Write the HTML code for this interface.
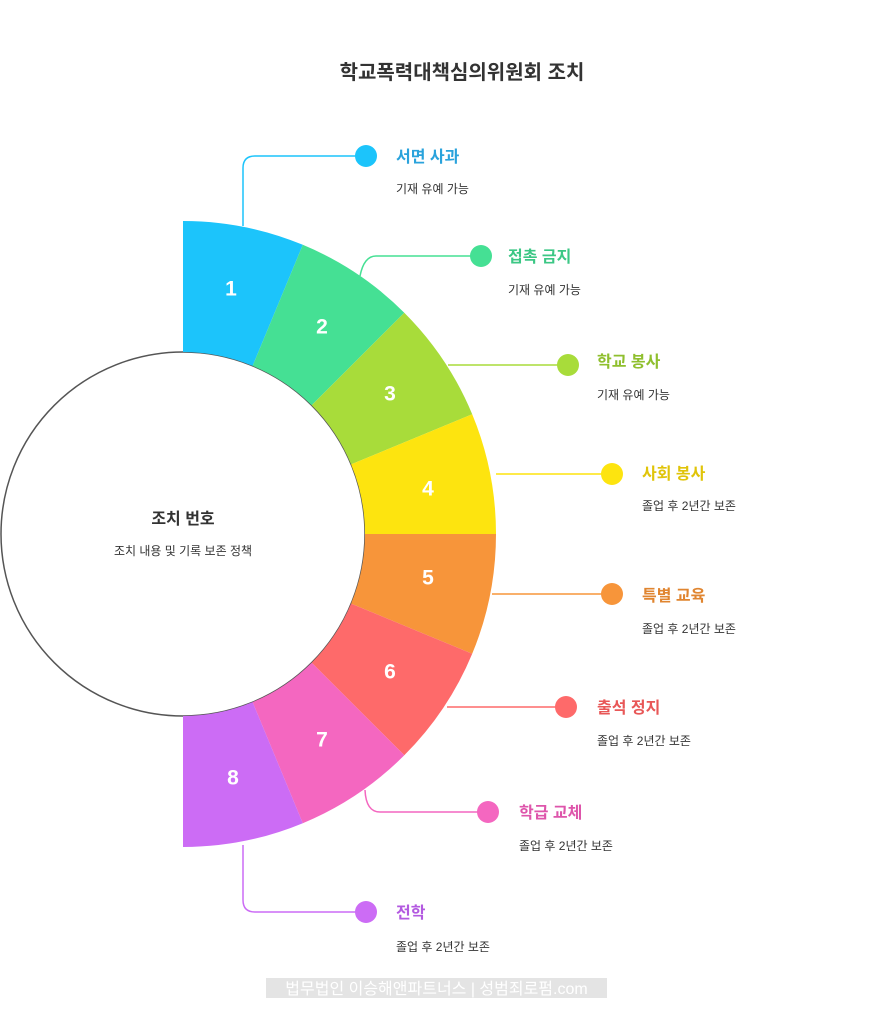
<!DOCTYPE html>
<html><head><meta charset="utf-8"><style>
html,body{margin:0;padding:0;background:#fff;}
svg text{font-family:"Liberation Sans","Noto Sans CJK KR",sans-serif;}
</style></head><body>
<svg width="874" height="1024" viewBox="0 0 874 1024" xmlns="http://www.w3.org/2000/svg">
<rect width="874" height="1024" fill="#fff"/>
<text x="462" y="79" font-size="20" font-weight="bold" fill="#333" text-anchor="middle">학교폭력대책심의위원회 조치</text>
<circle cx="183" cy="534" r="182" fill="#fff" stroke="#555" stroke-width="1.5"/>
<g stroke="none">
<path d="M183,352 L183,221 A313,313 0 0 1 302.8,244.8 L252.6,365.9 A182,182 0 0 0 183,352Z" fill="#1cc4fb"/>
<path d="M252.6,365.9 L302.8,244.8 A313,313 0 0 1 404.3,312.7 L311.7,405.3 A182,182 0 0 0 252.6,365.9Z" fill="#45e094"/>
<path d="M311.7,405.3 L404.3,312.7 A313,313 0 0 1 472.2,414.2 L351.1,464.4 A182,182 0 0 0 311.7,405.3Z" fill="#a8dc3a"/>
<path d="M351.1,464.4 L472.2,414.2 A313,313 0 0 1 496,534 L365,534 A182,182 0 0 0 351.1,464.4Z" fill="#fde40f"/>
<path d="M365,534 L496,534 A313,313 0 0 1 472.2,653.8 L351.1,603.6 A182,182 0 0 0 365,534Z" fill="#f7953a"/>
<path d="M351.1,603.6 L472.2,653.8 A313,313 0 0 1 404.3,755.3 L311.7,662.7 A182,182 0 0 0 351.1,603.6Z" fill="#fe6a6a"/>
<path d="M311.7,662.7 L404.3,755.3 A313,313 0 0 1 302.8,823.2 L252.6,702.1 A182,182 0 0 0 311.7,662.7Z" fill="#f467c0"/>
<path d="M252.6,702.1 L302.8,823.2 A313,313 0 0 1 183,847 L183,716 A182,182 0 0 0 252.6,702.1Z" fill="#cc6cf5"/>
</g>
<g fill="#fff" font-size="21" font-weight="bold" text-anchor="middle" dominant-baseline="central">
<text x="231" y="289">1</text><text x="322" y="327">2</text><text x="390" y="394">3</text><text x="428" y="489">4</text>
<text x="428" y="578">5</text><text x="390" y="672">6</text><text x="322" y="740">7</text><text x="233" y="778">8</text>
</g>
<text x="183" y="524" font-size="16" font-weight="bold" fill="#333" text-anchor="middle">조치 번호</text>
<text x="183" y="555" font-size="12" fill="#333" text-anchor="middle">조치 내용 및 기록 보존 정책</text>
<g fill="none" stroke-width="1.5">
<path d="M243,226 V168 Q243,156 255,156 H366" stroke="#1cc4fb"/>
<path d="M360,276 Q364,256 376,256 H481" stroke="#45e094"/>
<path d="M448,365 H568" stroke="#a8dc3a"/>
<path d="M496,474 H612" stroke="#fde40f"/>
<path d="M492,594 H612" stroke="#f7953a"/>
<path d="M447,707 H566" stroke="#fe6a6a"/>
<path d="M365,790 Q366,812 380,812 H488" stroke="#f467c0"/>
<path d="M243,845 V900 Q243,912 255,912 H366" stroke="#cc6cf5"/>
</g>
<circle cx="366" cy="156" r="11" fill="#1cc4fb"/>
<circle cx="481" cy="256" r="11" fill="#45e094"/>
<circle cx="568" cy="365" r="11" fill="#a8dc3a"/>
<circle cx="612" cy="474" r="11" fill="#fde40f"/>
<circle cx="612" cy="594" r="11" fill="#f7953a"/>
<circle cx="566" cy="707" r="11" fill="#fe6a6a"/>
<circle cx="488" cy="812" r="11" fill="#f467c0"/>
<circle cx="366" cy="912" r="11" fill="#cc6cf5"/>
<g font-size="16" font-weight="bold">
<text x="396" y="162" fill="#2aa3dc">서면 사과</text>
<text x="508" y="262" fill="#3cc785">접촉 금지</text>
<text x="597" y="367" fill="#8fbf2e">학교 봉사</text>
<text x="642" y="479" fill="#e0c40a">사회 봉사</text>
<text x="642" y="601" fill="#e08530">특별 교육</text>
<text x="597" y="713" fill="#e85757">출석 정지</text>
<text x="519" y="818" fill="#de55ab">학급 교체</text>
<text x="396" y="918" fill="#b35ae0">전학</text>
</g>
<g font-size="12" fill="#333">
<text x="396" y="193">기재 유예 가능</text>
<text x="508" y="294">기재 유예 가능</text>
<text x="597" y="399">기재 유예 가능</text>
<text x="642" y="510">졸업 후 2년간 보존</text>
<text x="642" y="633">졸업 후 2년간 보존</text>
<text x="597" y="745">졸업 후 2년간 보존</text>
<text x="519" y="850">졸업 후 2년간 보존</text>
<text x="396" y="951">졸업 후 2년간 보존</text>
</g>
<rect x="266" y="978" width="341" height="20" fill="#e4e4e4"/>
<text x="436.5" y="994" font-size="16" fill="#fff" text-anchor="middle">법무법인 이승해앤파트너스 | 성범죄로펌.com</text>
</svg>
</body></html>
